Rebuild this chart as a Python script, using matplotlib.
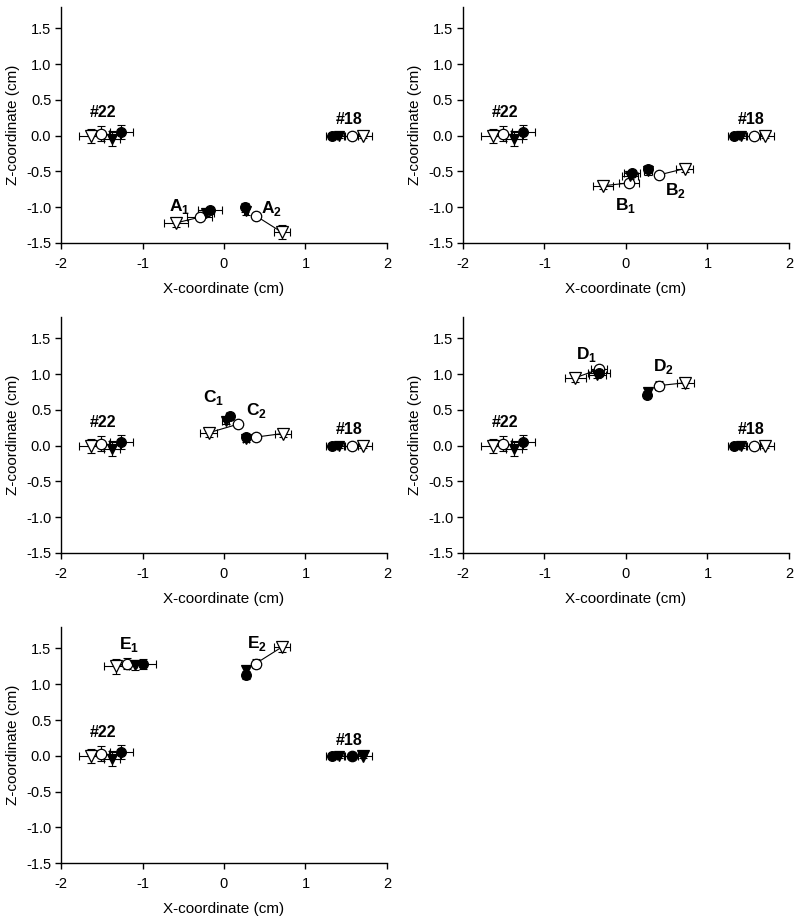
import matplotlib
matplotlib.use("Agg")
import matplotlib.pyplot as plt

plt.rcParams['font.family'] = ['Liberation Sans', 'DejaVu Sans']
plt.rcParams['mathtext.fontset'] = 'custom'
plt.rcParams['mathtext.rm'] = 'Liberation Sans'
plt.rcParams['mathtext.bf'] = 'Liberation Sans:bold'

# order of the four symbols in every group: filled circle, filled triangle, open circle, open triangle
L22_x = [-1.26, -1.37, -1.51, -1.63]
L22_z = [0.05, -0.04, 0.03, 0.00]
L22_xerr = [0.14, 0.10, 0.10, 0.15]
L22_zerr = [0.10, 0.10, 0.10, 0.10]

L18_x = [1.32, 1.41, 1.57, 1.71]
L18_z = [0.00, -0.01, 0.00, -0.01]
L18_xerr = [0.07, 0.06, 0.08, 0.11]
L18_zerr = [0.02, 0.02, 0.02, 0.02]

A1_x = [-0.17, -0.22, -0.30, -0.59]
A1_z = [-1.04, -1.08, -1.14, -1.22]
A1_xerr = [0.15, 0.10, 0.15, 0.15]
A1_zerr = [0.04, 0.04, 0.04, 0.05]
A2_x = [0.26, 0.27, 0.39, 0.71]
A2_z = [-1.00, -1.05, -1.12, -1.35]
A2_xerr = [0.03, 0.03, 0.03, 0.10]
A2_zerr = [0.06, 0.06, 0.04, 0.10]

B1_x = [0.07, 0.05, 0.04, -0.28]
B1_z = [-0.52, -0.56, -0.66, -0.70]
B1_xerr = [0.10, 0.10, 0.12, 0.12]
B1_zerr = [0.04, 0.04, 0.03, 0.04]
B2_x = [0.27, 0.27, 0.40, 0.72]
B2_z = [-0.47, -0.50, -0.55, -0.46]
B2_xerr = [0.05, 0.05, 0.03, 0.10]
B2_zerr = [0.05, 0.05, 0.03, 0.05]

C1_x = [0.07, 0.02, 0.17, -0.19]
C1_z = [0.41, 0.35, 0.30, 0.18]
C1_xerr = [0.04, 0.04, 0.03, 0.10]
C1_zerr = [0.04, 0.04, 0.03, 0.06]
C2_x = [0.27, 0.27, 0.39, 0.72]
C2_z = [0.12, 0.09, 0.12, 0.17]
C2_xerr = [0.04, 0.04, 0.03, 0.10]
C2_zerr = [0.04, 0.04, 0.03, 0.05]

D1_x = [-0.33, -0.35, -0.33, -0.62]
D1_z = [1.02, 0.99, 1.07, 0.95]
D1_xerr = [0.13, 0.10, 0.10, 0.125]
D1_zerr = [0.04, 0.04, 0.04, 0.06]
D2_x = [0.26, 0.27, 0.40, 0.73]
D2_z = [0.71, 0.75, 0.84, 0.88]
D2_xerr = [0.03, 0.03, 0.04, 0.10]
D2_zerr = [0.05, 0.05, 0.06, 0.07]

E1_x = [-1.00, -1.09, -1.19, -1.32]
E1_z = [1.28, 1.27, 1.29, 1.25]
E1_xerr = [0.17, 0.10, 0.12, 0.15]
E1_zerr = [0.07, 0.07, 0.08, 0.10]
E2_x = [0.27, 0.27, 0.39, 0.71]
E2_z = [1.13, 1.20, 1.29, 1.52]
E2_xerr = [0.03, 0.03, 0.04, 0.10]
E2_zerr = [0.06, 0.06, 0.06, 0.07]

panel_names = ['A', 'B', 'C', 'D', 'E']
x_ticks = [-2, -1, 0, 1, 2]
y_ticks = [-1.5, -1.0, -0.5, 0.0, 0.5, 1.0, 1.5]
y_ticklabels = ['-1.5', '-1.0', '-0.5', '0.0', '0.5', '1.0', '1.5']

groups = {
    'A': [(A1_x, A1_z, A1_xerr, A1_zerr), (A2_x, A2_z, A2_xerr, A2_zerr)],
    'B': [(B1_x, B1_z, B1_xerr, B1_zerr), (B2_x, B2_z, B2_xerr, B2_zerr)],
    'C': [(C1_x, C1_z, C1_xerr, C1_zerr), (C2_x, C2_z, C2_xerr, C2_zerr)],
    'D': [(D1_x, D1_z, D1_xerr, D1_zerr), (D2_x, D2_z, D2_xerr, D2_zerr)],
    'E': [(E1_x, E1_z, E1_xerr, E1_zerr), (E2_x, E2_z, E2_xerr, E2_zerr)],
}
label_pos = {
    'A': [(-0.55, -0.99), (0.58, -1.02)],
    'B': [(0.00, -0.97), (0.61, -0.76)],
    'C': [(-0.13, 0.68), (0.40, 0.49)],
    'D': [(-0.48, 1.28), (0.455, 1.11)],
    'E': [(-1.17, 1.56), (0.41, 1.57)],
}

axes_pos = {
    'A': [0.07625, 0.7356, 0.4075, 0.2568],
    'B': [0.5787, 0.7356, 0.4075, 0.2568],
    'C': [0.07625, 0.3983, 0.4075, 0.2568],
    'D': [0.5787, 0.3983, 0.4075, 0.2568],
    'E': [0.07625, 0.0609, 0.4075, 0.2568],
}

fig = plt.figure(figsize=(8, 9.19), dpi=100)

markers = ['o', 'v', 'o', 'v']
faces = ['black', 'black', 'white', 'white']
sizes = [7, 7, 7.5, 8]


def draw_group(ax, x, z, xe, ze, faces_used):
    ax.plot([x[2], x[3]], [z[2], z[3]], color='black', lw=0.8, zorder=2)
    for i in range(3, -1, -1):
        ax.errorbar(x[i], z[i], xerr=xe[i], yerr=ze[i], fmt='none', ecolor='black',
                    elinewidth=0.8, capsize=3, capthick=0.8, zorder=3)
        ax.plot(x[i], z[i], marker=markers[i], ms=sizes[i], mfc=faces_used[i],
                mec='black', mew=0.9, ls='none', zorder=4 + (3 - i) * 0.1)


for name in panel_names:
    ax = fig.add_axes(axes_pos[name])
    ax.set_xlim(-2, 2)
    ax.set_ylim(-1.5, 1.8)
    for s in ['top', 'right']:
        ax.spines[s].set_visible(False)
    for s in ['left', 'bottom']:
        ax.spines[s].set_linewidth(1.0)
    ax.set_xticks(x_ticks)
    ax.set_xticklabels([str(t) for t in x_ticks], fontsize=10.5)
    ax.set_yticks(y_ticks)
    ax.set_yticklabels(y_ticklabels, fontsize=10.5)
    ax.tick_params(direction='out', length=4, width=1.0, pad=3)
    ax.tick_params(axis='x', pad=6)
    ax.set_xlabel('X-coordinate (cm)', fontsize=11, labelpad=8)
    ax.set_ylabel('Z-coordinate (cm)', fontsize=11, labelpad=4)

    draw_group(ax, L22_x, L22_z, L22_xerr, L22_zerr, faces)
    faces18 = ['black'] * 4 if name == 'E' else faces
    draw_group(ax, L18_x, L18_z, L18_xerr, L18_zerr, faces18)
    for gi, (gx, gz, gxe, gze) in enumerate(groups[name]):
        draw_group(ax, gx, gz, gxe, gze, faces)
        lx, lz = label_pos[name][gi]
        ax.text(lx, lz, r'$\mathbf{%s}_{\mathbf{%d}}$' % (name, gi + 1), fontsize=12.5,
                ha='center', va='center')
    ax.text(-1.48, 0.32, '#22', fontsize=11.5, fontweight='bold', ha='center', va='center')
    ax.text(1.54, 0.22, '#18', fontsize=11.5, fontweight='bold', ha='center', va='center')

fig.savefig('out.png', dpi=100)
